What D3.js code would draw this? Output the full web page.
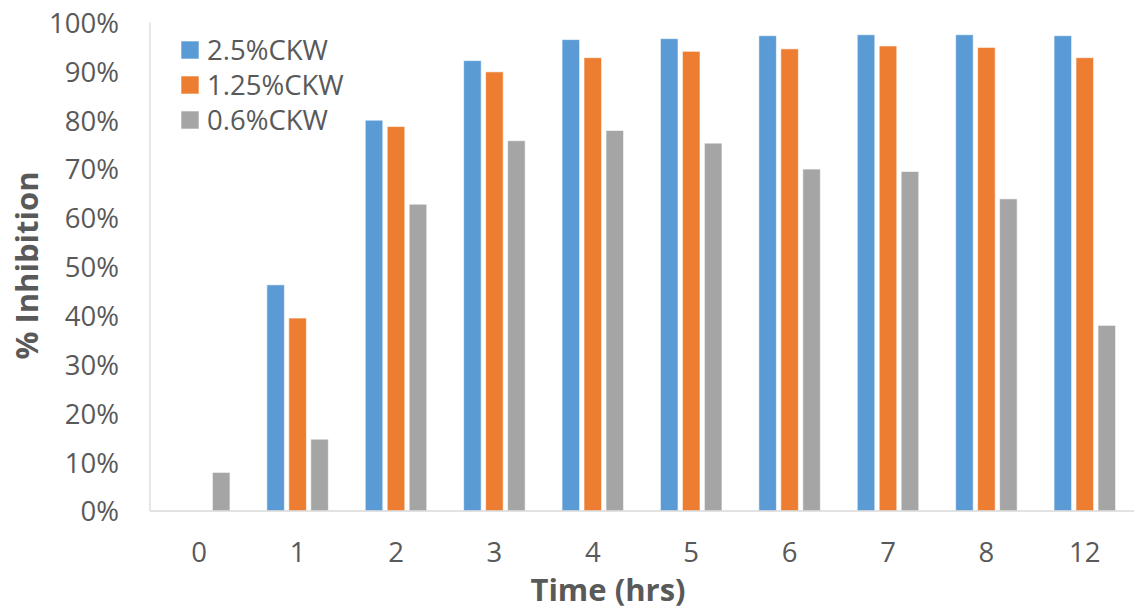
<!DOCTYPE html>
<html>
<head>
<meta charset="utf-8">
<script src="https://cdn.jsdelivr.net/npm/d3@7"></script>
<style>
  html, body { margin: 0; padding: 0; background: #fff; }
  svg text { font-family: "Open Sans", "Noto Sans", sans-serif; }
</style>
</head>
<body>
<svg id="chart" width="1135" height="609"></svg>
<script>
const categories = ["0", "1", "2", "3", "4", "5", "6", "7", "8", "12"];
const seriesNames = ["2.5%CKW", "1.25%CKW", "0.6%CKW"];
const s25 = [0, 46.3, 80.0, 92.2, 96.5, 96.7, 97.3, 97.5, 97.5, 97.3];
const s125 = [0, 39.5, 78.7, 89.9, 92.8, 94.1, 94.6, 95.2, 94.9, 92.8];
const s06 = [7.9, 14.7, 62.8, 75.8, 77.9, 75.3, 70.0, 69.5, 63.9, 38.0];
const yTicks = [0, 10, 20, 30, 40, 50, 60, 70, 80, 90, 100];
const colors = ["#5B9BD5", "#ED7D31", "#A5A5A5"];

const seriesValues = [s25, s125, s06];
const svg = d3.select("#chart");
const pLeft = 150, pRight = 1134, pTop = 22.5, pBottom = 511;

const x0 = d3.scaleBand().domain(categories).range([pLeft, pRight]).paddingInner(0.33).paddingOuter(0.165);
const x1 = d3.scaleBand().domain(seriesNames).range([0, x0.bandwidth()]).paddingInner(0.2).paddingOuter(0.1);
const y = d3.scaleLinear().domain([0, 100]).range([pBottom, pTop]);

// axis lines
svg.append("line").attr("x1", pLeft).attr("x2", pLeft).attr("y1", pTop).attr("y2", pBottom)
  .attr("stroke", "#d9d9d9").attr("stroke-width", 1.3);

// bars
const groups = svg.append("g").selectAll("g").data(categories).join("g")
  .attr("transform", d => `translate(${x0(d)},0)`);
groups.selectAll("rect")
  .data((c, i) => seriesNames.map((s, k) => ({ s, k, v: seriesValues[k][i] })))
  .join("rect")
  .filter(d => d.v > 0)
  .attr("x", d => x1(d.s))
  .attr("width", x1.bandwidth())
  .attr("y", d => y(d.v))
  .attr("height", d => y(0) - y(d.v))
  .attr("fill", d => colors[d.k])
  .attr("stroke", "rgba(255,255,255,0.6)")
  .attr("stroke-width", 1);

svg.append("line").attr("x1", pLeft).attr("x2", pRight).attr("y1", pBottom).attr("y2", pBottom)
  .attr("stroke", "#d9d9d9").attr("stroke-width", 1.5);

// y axis labels
const yAxis = d3.axisLeft(y).tickValues(yTicks).tickFormat(d => d + "%").tickSize(0).tickPadding(0);
const yg = svg.append("g").attr("transform", `translate(119,0)`).call(yAxis);
yg.select(".domain").remove();
yg.selectAll("text").attr("fill", "#595959").attr("font-size", 27.5).attr("dy", "0.36em")
  .style("font-family", "'Open Sans', sans-serif");

// x axis labels
const xAxis = d3.axisBottom(x0).tickSize(0).tickPadding(0);
const xg = svg.append("g").attr("transform", `translate(0,${pBottom})`).call(xAxis);
xg.select(".domain").remove();
xg.selectAll("text").attr("fill", "#595959").attr("font-size", 27.5).attr("dy", 0).attr("y", 51)
  .style("font-family", "'Open Sans', sans-serif");

// titles
svg.append("text").attr("x", 608).attr("y", 601).attr("text-anchor", "middle")
  .attr("font-size", 31).attr("font-weight", "bold").attr("fill", "#595959").text("Time (hrs)");
svg.append("text").attr("transform", `translate(38,265.5) rotate(-90)`)
  .attr("text-anchor", "middle").attr("font-size", 31).attr("font-weight", "bold")
  .attr("fill", "#595959").text("% Inhibition");

// legend
const lg = svg.append("g").selectAll("g").data(seriesNames).join("g")
  .attr("transform", (d, i) => `translate(181,${41 + i * 35})`);
lg.append("rect").attr("width", 18).attr("height", 18).attr("fill", (d, i) => colors[i])
  .attr("stroke", "rgba(255,255,255,0.6)");
lg.append("text").attr("x", 26).attr("y", 9).attr("dy", "0.36em").attr("font-size", 27.5)
  .attr("fill", "#595959").text(d => d);
</script>
</body>
</html>
